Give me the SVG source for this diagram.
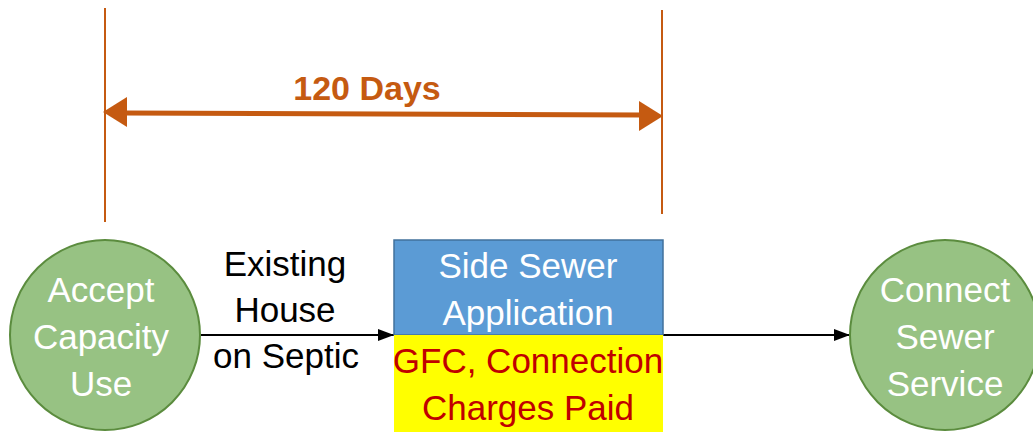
<svg xmlns="http://www.w3.org/2000/svg" width="1033" height="432" viewBox="0 0 1033 432">
<style>
text{font-family:"Liberation Sans",Arial,sans-serif;font-size:35px;text-anchor:middle}
.w{fill:#ffffff}.k{fill:#000000}.r{fill:#C00000}
.o{fill:#C55A11;font-weight:bold;font-size:34px}
.circ{fill:#97C283;stroke:#5B8C3E;stroke-width:2}
.tick{stroke:#C55A11;stroke-width:2;fill:none}
</style>
<defs>
<marker id="ah" markerWidth="16" markerHeight="12" refX="16" refY="6" orient="auto" markerUnits="userSpaceOnUse" viewBox="0 0 16 12">
<path d="M0,0 L16,6 L0,12 Z" fill="#000"/>
</marker>
</defs>
<g id="dimension">
<line class="tick" x1="105" y1="8" x2="105" y2="222"/>
<line class="tick" x1="662" y1="10" x2="662" y2="214"/>
<line x1="124" y1="113" x2="642" y2="115" stroke="#C55A11" stroke-width="5"/>
<path d="M103,112 L127,97 L127,127 Z" fill="#C55A11"/>
<path d="M663,116 L639,101 L639,131 Z" fill="#C55A11"/>
<text class="o" x="367" y="100">120 Days</text>
</g>
<g id="connectors">
<line x1="201" y1="335" x2="394" y2="335" stroke="#000" stroke-width="2" marker-end="url(#ah)"/>
<line x1="663" y1="335" x2="850" y2="335" stroke="#000" stroke-width="2" marker-end="url(#ah)"/>
<text class="k" x="285" y="276">Existing</text>
<text class="k" x="285" y="322">House</text>
<text class="k" x="286" y="368">on Septic</text>
</g>
<g id="accept">
<circle class="circ" cx="105" cy="335" r="95"/>
<text class="w" x="101" y="302">Accept</text>
<text class="w" x="101" y="349">Capacity</text>
<text class="w" x="101" y="396">Use</text>
</g>
<g id="application">
<rect x="394" y="240" width="269" height="95" fill="#5B9BD5" stroke="#41719C" stroke-width="1.5"/>
<rect x="394" y="335" width="269" height="97" fill="#FFFF00"/>
<text class="w" x="528" y="278">Side Sewer</text>
<text class="w" x="528" y="325">Application</text>
<text class="r" x="528" y="373">GFC, Connection</text>
<text class="r" x="528" y="420">Charges Paid</text>
</g>
<g id="connect">
<circle class="circ" cx="945" cy="335" r="95"/>
<text class="w" x="945" y="302">Connect</text>
<text class="w" x="945" y="349">Sewer</text>
<text class="w" x="945" y="396">Service</text>
</g>
</svg>
